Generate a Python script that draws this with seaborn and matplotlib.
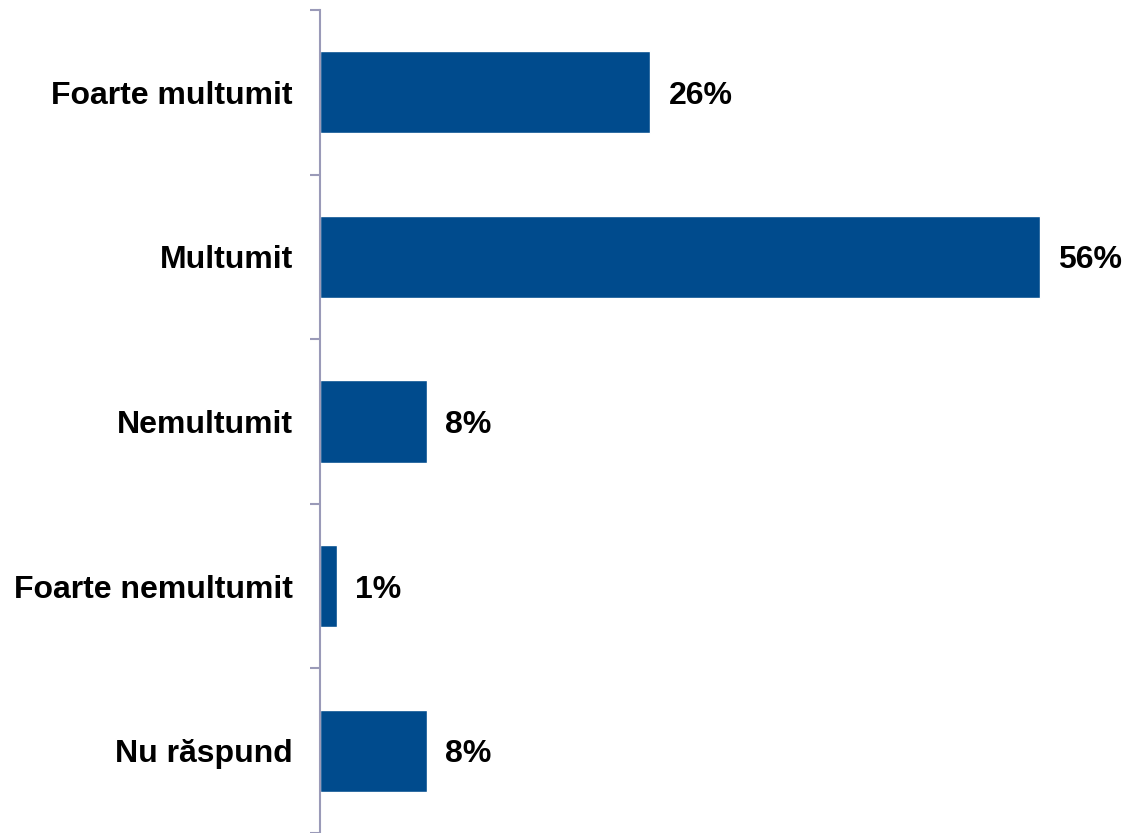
import matplotlib.pyplot as plt
import pandas as pd
import seaborn as sns

# Survey answers (bar lengths, labels as printed)
categories = ['Foarte multumit', 'Multumit', 'Nemultumit', 'Foarte nemultumit', 'Nu răspund']
values = [25.7, 56.0, 8.3, 1.3, 8.3]
value_labels = ['26%', '56%', '8%', '1%', '8%']

BAR_COLOR = '#004B8D'
AXIS_COLOR = '#9A9AB8'
FONT_SIZE = 23

sns.set_style('white')
plt.rcParams['font.family'] = ['Liberation Sans', 'DejaVu Sans']

df = pd.DataFrame({'category': categories, 'value': values})

fig = plt.figure(figsize=(11.24, 8.33), dpi=100)
ax = fig.add_axes([320 / 1124, 0.0, 760 / 1124, 823 / 833])

sns.barplot(data=df, x='value', y='category', orient='h', color=BAR_COLOR,
            width=0.5, saturation=1, ax=ax)

ax.set_xlim(0, 760 / 720 * 56)
ax.set_ylim(len(categories) - 0.5, -0.5)

# Category labels sit between boundary ticks
ax.set_yticks(range(len(categories)))
ax.set_yticklabels(categories, fontsize=FONT_SIZE, fontweight='bold', color='black',
                   va='center_baseline')
ax.tick_params(axis='y', which='major', length=0, pad=19.5)
ax.set_yticks([i - 0.5 for i in range(len(categories) + 1)], minor=True)
ax.tick_params(axis='y', which='minor', left=True, length=7, width=1.5,
               color=AXIS_COLOR, direction='out')

ax.set_xticks([])
ax.set_xlabel('')
ax.set_ylabel('')

for side in ['top', 'right', 'bottom']:
    ax.spines[side].set_visible(False)
ax.spines['left'].set_color(AXIS_COLOR)
ax.spines['left'].set_linewidth(1.5)

for i, (v, lab) in enumerate(zip(values, value_labels)):
    ax.annotate(lab, xy=(v, i), xytext=(13, 0), textcoords='offset points',
                va='center_baseline', ha='left', fontsize=FONT_SIZE, fontweight='bold',
                color='black', annotation_clip=False)

fig.savefig('out.png', dpi=100)
